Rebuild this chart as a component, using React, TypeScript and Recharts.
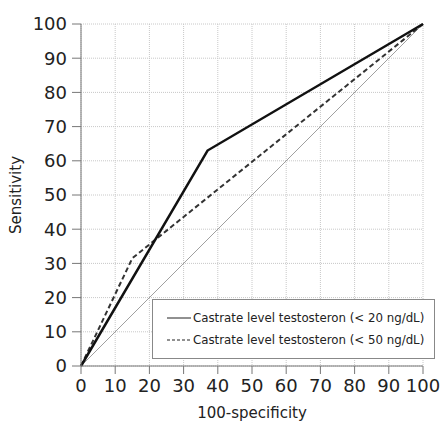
import { LineChart, Line, XAxis, YAxis, CartesianGrid, Legend } from 'recharts';

const ticks = [0, 10, 20, 30, 40, 50, 60, 70, 80, 90, 100];

const solidX = [0, 37, 100];
const solidY = [0, 63, 100];
const dashedX = [0, 15, 100];
const dashedY = [0, 31.5, 100];
const chanceX = [0, 100];
const chanceY = [0, 100];

const toPoints = (xs: number[], ys: number[]) => xs.map((x, i) => ({ x, y: ys[i] }));

const solidData = toPoints(solidX, solidY);
const dashedData = toPoints(dashedX, dashedY);
const chanceData = toPoints(chanceX, chanceY);

const FONT = 'Tahoma, Verdana, "DejaVu Sans", sans-serif';

function LegendBox({ payload }: any) {
  const items = (payload || []).filter((p: any) => p.value !== 'chance');
  return (
    <div style={{ fontFamily: FONT, fontSize: 11.8, color: '#222' }}>
      {items.map((p: any) => (
        <div key={p.value} style={{ display: 'flex', alignItems: 'center', height: 22 }}>
          <svg width={24} height={4} style={{ marginRight: 2 }}>
            <line
              x1={0}
              y1={2}
              x2={24}
              y2={2}
              stroke="#222"
              strokeWidth={1}
              strokeDasharray={p.payload?.strokeDasharray ? '3 2' : undefined}
            />
          </svg>
          <span>{p.value}</span>
        </div>
      ))}
    </div>
  );
}

export default function App() {
  return (
    <div style={{ position: 'absolute', left: 0, top: 0 }}>
      <LineChart width={443} height={421} margin={{ top: 24, right: 20, bottom: 10, left: 0 }}>
        <CartesianGrid stroke="#c8c8c8" strokeDasharray="1 1" />
        <XAxis
          type="number"
          dataKey="x"
          domain={[0, 100]}
          ticks={ticks}
          interval={0}
          tickSize={8}
          tickMargin={5}
          stroke="#777"
          tick={{ fill: '#222', fontSize: 18, fontFamily: FONT }}
          height={45}
          label={{ value: '100-specificity', position: 'insideBottom', offset: -7, fill: '#222', fontSize: 15, fontFamily: FONT }}
        />
        <YAxis
          type="number"
          dataKey="y"
          domain={[0, 100]}
          ticks={ticks}
          interval={0}
          tickSize={9}
          tickMargin={5}
          stroke="#777"
          width={81}
          tick={{ fill: '#222', fontSize: 18, fontFamily: FONT }}
          label={{ value: 'Sensitivity', angle: -90, position: 'insideLeft', offset: 16, fill: '#222', fontSize: 15, fontFamily: FONT, style: { textAnchor: 'middle' } }}
        />
        <Line
          data={chanceData}
          dataKey="y"
          name="chance"
          stroke="#888"
          strokeWidth={0.8}
          dot={false}
          legendType="none"
          isAnimationActive={false}
        />
        <Line
          data={dashedData}
          dataKey="y"
          name="Castrate level testosteron (< 50 ng/dL)"
          stroke="#333"
          strokeWidth={2}
          strokeDasharray="5 3"
          dot={false}
          isAnimationActive={false}
        />
        <Line
          data={solidData}
          dataKey="y"
          name="Castrate level testosteron (< 20 ng/dL)"
          stroke="#111"
          strokeWidth={2.5}
          dot={false}
          isAnimationActive={false}
        />
        <Legend
          layout="vertical"
          align="center"
          verticalAlign="middle"
          content={(props: any) => {
            const sorted = [...(props.payload || [])].sort((a: any, b: any) => (a.value > b.value ? 1 : -1));
            return <LegendBox payload={sorted} />;
          }}
          wrapperStyle={{
            left: 152,
            top: 299,
            width: 283,
            height: 60,
            boxSizing: 'border-box',
            border: '1px solid #888',
            background: '#fff',
            padding: '7px 0 0 14px',
          }}
        />
      </LineChart>
    </div>
  );
}
